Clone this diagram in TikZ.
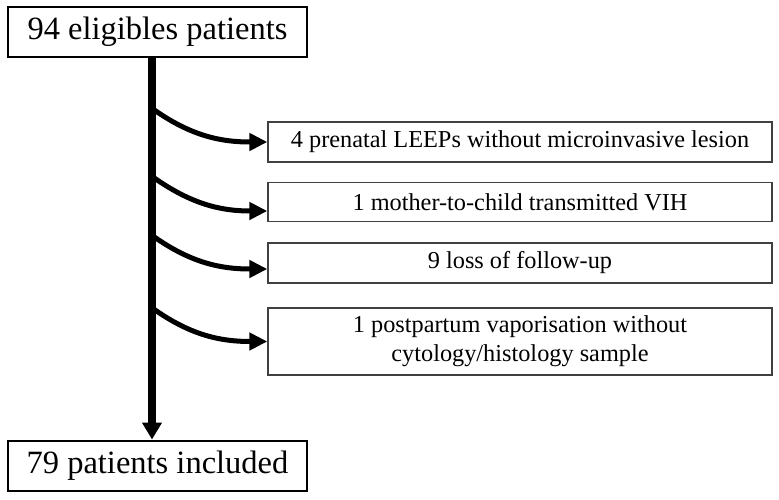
\documentclass[tikz,border=0pt]{standalone}
\usepackage{fontspec}
\setmainfont{Liberation Serif}
\usetikzlibrary{arrows.meta}
\begin{document}
\begin{tikzpicture}[x=1pt,y=-1pt,
  main box/.style={draw,line width=2pt,minimum width=299pt,minimum height=50pt,inner sep=0pt,font=\fontsize{32.5}{38}\selectfont},
  side box/.style={draw=black!75,line width=1.3pt,minimum width=504pt,minimum height=#1,inner sep=0pt,align=center,font=\fontsize{24.3}{29}\selectfont},
  trunk/.style={line width=8pt,-{Triangle[length=17pt,width=19pt]}},
  exit/.style={line width=5pt,-{Triangle[length=18pt,width=17pt]}}]
\useasboundingbox (0,0) rectangle (779,499);
\node[main box] (top) at (157.5,32) {94 eligibles patients};
\node[main box] (bot) at (157.5,465.5) {79 patients included};
\node[side box=40pt] (l1) at (520,142) {4 prenatal LEEPs without microinvasive lesion};
\node[side box=39pt] (l2) at (520,202) {1 mother-to-child transmitted VIH};
\node[side box=40pt] (l3) at (520,263) {9 loss of follow-up};
\node[side box=67pt] (l4) at (520,341.5) {1 postpartum vaporisation without\\cytology/histology sample};
\draw[trunk] ([xshift=-5.5pt]top.south) -- ([xshift=-5.5pt]bot.north);
\draw[exit] ([xshift=-113pt,yshift=32pt]l1.west) to[out=-35,in=180] (l1.west);
\draw[exit] ([xshift=-113pt,yshift=24pt]l2.west) to[out=-35,in=180] ([yshift=-9pt]l2.west);
\draw[exit] ([xshift=-113pt,yshift=26pt]l3.west) to[out=-35,in=180] ([yshift=-6pt]l3.west);
\draw[exit] ([xshift=-113pt,yshift=32pt]l4.west) to[out=-35,in=180] (l4.west);
\end{tikzpicture}
\end{document}
